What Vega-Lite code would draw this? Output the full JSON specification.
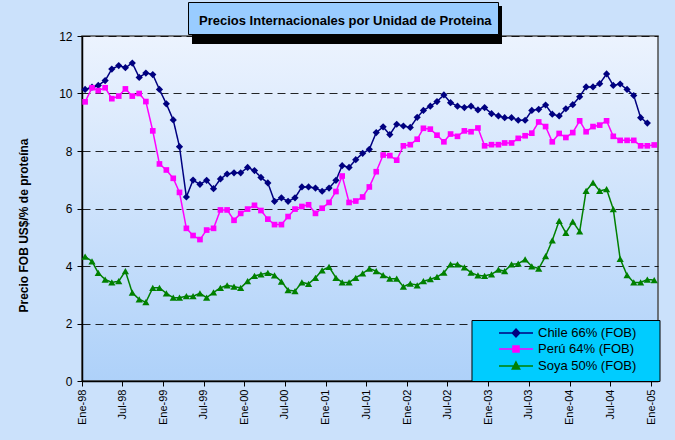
{
  "$schema": "https://vega.github.io/schema/vega-lite/v6.json",
  "width": 576,
  "height": 345,
  "autosize": {"type": "none"},
  "padding": {"left": 82, "top": 36, "right": 17, "bottom": 59},
  "background": "#CBE1FB",
  "config": {
    "font": "Liberation Sans",
    "view": {
      "stroke": "#4d4d4d",
      "strokeWidth": 1.5,
      "fill": {"gradient": "linear", "x1": 0, "y1": 0, "x2": 0, "y2": 1, "stops": [{"offset": 0, "color": "#ECF3FE"}, {"offset": 1, "color": "#AED1F9"}]}
    }
  },
  "data": {
    "values": [
      {"serie": "Chile 66% (FOB)", "fecha": "1998-01-15", "precio": 10.14},
      {"serie": "Chile 66% (FOB)", "fecha": "1998-02-15", "precio": 10.22},
      {"serie": "Chile 66% (FOB)", "fecha": "1998-03-15", "precio": 10.28},
      {"serie": "Chile 66% (FOB)", "fecha": "1998-04-15", "precio": 10.45},
      {"serie": "Chile 66% (FOB)", "fecha": "1998-05-15", "precio": 10.85},
      {"serie": "Chile 66% (FOB)", "fecha": "1998-06-15", "precio": 10.97},
      {"serie": "Chile 66% (FOB)", "fecha": "1998-07-15", "precio": 10.90},
      {"serie": "Chile 66% (FOB)", "fecha": "1998-08-15", "precio": 11.06},
      {"serie": "Chile 66% (FOB)", "fecha": "1998-09-15", "precio": 10.56},
      {"serie": "Chile 66% (FOB)", "fecha": "1998-10-15", "precio": 10.71},
      {"serie": "Chile 66% (FOB)", "fecha": "1998-11-15", "precio": 10.66},
      {"serie": "Chile 66% (FOB)", "fecha": "1998-12-15", "precio": 10.14},
      {"serie": "Chile 66% (FOB)", "fecha": "1999-01-15", "precio": 9.64},
      {"serie": "Chile 66% (FOB)", "fecha": "1999-02-15", "precio": 9.08},
      {"serie": "Chile 66% (FOB)", "fecha": "1999-03-15", "precio": 8.15},
      {"serie": "Chile 66% (FOB)", "fecha": "1999-04-15", "precio": 6.40},
      {"serie": "Chile 66% (FOB)", "fecha": "1999-05-15", "precio": 6.99},
      {"serie": "Chile 66% (FOB)", "fecha": "1999-06-15", "precio": 6.84},
      {"serie": "Chile 66% (FOB)", "fecha": "1999-07-15", "precio": 6.98},
      {"serie": "Chile 66% (FOB)", "fecha": "1999-08-15", "precio": 6.69},
      {"serie": "Chile 66% (FOB)", "fecha": "1999-09-15", "precio": 7.03},
      {"serie": "Chile 66% (FOB)", "fecha": "1999-10-15", "precio": 7.20},
      {"serie": "Chile 66% (FOB)", "fecha": "1999-11-15", "precio": 7.24},
      {"serie": "Chile 66% (FOB)", "fecha": "1999-12-15", "precio": 7.24},
      {"serie": "Chile 66% (FOB)", "fecha": "2000-01-15", "precio": 7.43},
      {"serie": "Chile 66% (FOB)", "fecha": "2000-02-15", "precio": 7.32},
      {"serie": "Chile 66% (FOB)", "fecha": "2000-03-15", "precio": 7.08},
      {"serie": "Chile 66% (FOB)", "fecha": "2000-04-15", "precio": 6.89},
      {"serie": "Chile 66% (FOB)", "fecha": "2000-05-15", "precio": 6.25},
      {"serie": "Chile 66% (FOB)", "fecha": "2000-06-15", "precio": 6.37},
      {"serie": "Chile 66% (FOB)", "fecha": "2000-07-15", "precio": 6.25},
      {"serie": "Chile 66% (FOB)", "fecha": "2000-08-15", "precio": 6.37},
      {"serie": "Chile 66% (FOB)", "fecha": "2000-09-15", "precio": 6.75},
      {"serie": "Chile 66% (FOB)", "fecha": "2000-10-15", "precio": 6.75},
      {"serie": "Chile 66% (FOB)", "fecha": "2000-11-15", "precio": 6.71},
      {"serie": "Chile 66% (FOB)", "fecha": "2000-12-15", "precio": 6.60},
      {"serie": "Chile 66% (FOB)", "fecha": "2001-01-15", "precio": 6.71},
      {"serie": "Chile 66% (FOB)", "fecha": "2001-02-15", "precio": 6.98},
      {"serie": "Chile 66% (FOB)", "fecha": "2001-03-15", "precio": 7.49},
      {"serie": "Chile 66% (FOB)", "fecha": "2001-04-15", "precio": 7.43},
      {"serie": "Chile 66% (FOB)", "fecha": "2001-05-15", "precio": 7.70},
      {"serie": "Chile 66% (FOB)", "fecha": "2001-06-15", "precio": 7.92},
      {"serie": "Chile 66% (FOB)", "fecha": "2001-07-15", "precio": 8.06},
      {"serie": "Chile 66% (FOB)", "fecha": "2001-08-15", "precio": 8.64},
      {"serie": "Chile 66% (FOB)", "fecha": "2001-09-15", "precio": 8.84},
      {"serie": "Chile 66% (FOB)", "fecha": "2001-10-15", "precio": 8.57},
      {"serie": "Chile 66% (FOB)", "fecha": "2001-11-15", "precio": 8.93},
      {"serie": "Chile 66% (FOB)", "fecha": "2001-12-15", "precio": 8.87},
      {"serie": "Chile 66% (FOB)", "fecha": "2002-01-15", "precio": 8.82},
      {"serie": "Chile 66% (FOB)", "fecha": "2002-02-15", "precio": 9.17},
      {"serie": "Chile 66% (FOB)", "fecha": "2002-03-15", "precio": 9.41},
      {"serie": "Chile 66% (FOB)", "fecha": "2002-04-15", "precio": 9.56},
      {"serie": "Chile 66% (FOB)", "fecha": "2002-05-15", "precio": 9.72},
      {"serie": "Chile 66% (FOB)", "fecha": "2002-06-15", "precio": 9.95},
      {"serie": "Chile 66% (FOB)", "fecha": "2002-07-15", "precio": 9.68},
      {"serie": "Chile 66% (FOB)", "fecha": "2002-08-15", "precio": 9.56},
      {"serie": "Chile 66% (FOB)", "fecha": "2002-09-15", "precio": 9.51},
      {"serie": "Chile 66% (FOB)", "fecha": "2002-10-15", "precio": 9.56},
      {"serie": "Chile 66% (FOB)", "fecha": "2002-11-15", "precio": 9.43},
      {"serie": "Chile 66% (FOB)", "fecha": "2002-12-15", "precio": 9.51},
      {"serie": "Chile 66% (FOB)", "fecha": "2003-01-15", "precio": 9.30},
      {"serie": "Chile 66% (FOB)", "fecha": "2003-02-15", "precio": 9.22},
      {"serie": "Chile 66% (FOB)", "fecha": "2003-03-15", "precio": 9.16},
      {"serie": "Chile 66% (FOB)", "fecha": "2003-04-15", "precio": 9.16},
      {"serie": "Chile 66% (FOB)", "fecha": "2003-05-15", "precio": 9.07},
      {"serie": "Chile 66% (FOB)", "fecha": "2003-06-15", "precio": 9.07},
      {"serie": "Chile 66% (FOB)", "fecha": "2003-07-15", "precio": 9.41},
      {"serie": "Chile 66% (FOB)", "fecha": "2003-08-15", "precio": 9.45},
      {"serie": "Chile 66% (FOB)", "fecha": "2003-09-15", "precio": 9.60},
      {"serie": "Chile 66% (FOB)", "fecha": "2003-10-15", "precio": 9.28},
      {"serie": "Chile 66% (FOB)", "fecha": "2003-11-15", "precio": 9.22},
      {"serie": "Chile 66% (FOB)", "fecha": "2003-12-15", "precio": 9.47},
      {"serie": "Chile 66% (FOB)", "fecha": "2004-01-15", "precio": 9.61},
      {"serie": "Chile 66% (FOB)", "fecha": "2004-02-15", "precio": 9.89},
      {"serie": "Chile 66% (FOB)", "fecha": "2004-03-15", "precio": 10.23},
      {"serie": "Chile 66% (FOB)", "fecha": "2004-04-15", "precio": 10.23},
      {"serie": "Chile 66% (FOB)", "fecha": "2004-05-15", "precio": 10.34},
      {"serie": "Chile 66% (FOB)", "fecha": "2004-06-15", "precio": 10.68},
      {"serie": "Chile 66% (FOB)", "fecha": "2004-07-15", "precio": 10.28},
      {"serie": "Chile 66% (FOB)", "fecha": "2004-08-15", "precio": 10.33},
      {"serie": "Chile 66% (FOB)", "fecha": "2004-09-15", "precio": 10.14},
      {"serie": "Chile 66% (FOB)", "fecha": "2004-10-15", "precio": 9.93},
      {"serie": "Chile 66% (FOB)", "fecha": "2004-11-15", "precio": 9.16},
      {"serie": "Chile 66% (FOB)", "fecha": "2004-12-15", "precio": 8.97},
      {"serie": "Perú 64% (FOB)", "fecha": "1998-01-15", "precio": 9.71},
      {"serie": "Perú 64% (FOB)", "fecha": "1998-02-15", "precio": 10.20},
      {"serie": "Perú 64% (FOB)", "fecha": "1998-03-15", "precio": 10.10},
      {"serie": "Perú 64% (FOB)", "fecha": "1998-04-15", "precio": 10.20},
      {"serie": "Perú 64% (FOB)", "fecha": "1998-05-15", "precio": 9.82},
      {"serie": "Perú 64% (FOB)", "fecha": "1998-06-15", "precio": 9.91},
      {"serie": "Perú 64% (FOB)", "fecha": "1998-07-15", "precio": 10.16},
      {"serie": "Perú 64% (FOB)", "fecha": "1998-08-15", "precio": 9.91},
      {"serie": "Perú 64% (FOB)", "fecha": "1998-09-15", "precio": 10.00},
      {"serie": "Perú 64% (FOB)", "fecha": "1998-10-15", "precio": 9.72},
      {"serie": "Perú 64% (FOB)", "fecha": "1998-11-15", "precio": 8.70},
      {"serie": "Perú 64% (FOB)", "fecha": "1998-12-15", "precio": 7.55},
      {"serie": "Perú 64% (FOB)", "fecha": "1999-01-15", "precio": 7.34},
      {"serie": "Perú 64% (FOB)", "fecha": "1999-02-15", "precio": 7.05},
      {"serie": "Perú 64% (FOB)", "fecha": "1999-03-15", "precio": 6.56},
      {"serie": "Perú 64% (FOB)", "fecha": "1999-04-15", "precio": 5.31},
      {"serie": "Perú 64% (FOB)", "fecha": "1999-05-15", "precio": 5.06},
      {"serie": "Perú 64% (FOB)", "fecha": "1999-06-15", "precio": 4.92},
      {"serie": "Perú 64% (FOB)", "fecha": "1999-07-15", "precio": 5.25},
      {"serie": "Perú 64% (FOB)", "fecha": "1999-08-15", "precio": 5.31},
      {"serie": "Perú 64% (FOB)", "fecha": "1999-09-15", "precio": 5.95},
      {"serie": "Perú 64% (FOB)", "fecha": "1999-10-15", "precio": 5.95},
      {"serie": "Perú 64% (FOB)", "fecha": "1999-11-15", "precio": 5.59},
      {"serie": "Perú 64% (FOB)", "fecha": "1999-12-15", "precio": 5.83},
      {"serie": "Perú 64% (FOB)", "fecha": "2000-01-15", "precio": 5.98},
      {"serie": "Perú 64% (FOB)", "fecha": "2000-02-15", "precio": 6.11},
      {"serie": "Perú 64% (FOB)", "fecha": "2000-03-15", "precio": 5.93},
      {"serie": "Perú 64% (FOB)", "fecha": "2000-04-15", "precio": 5.63},
      {"serie": "Perú 64% (FOB)", "fecha": "2000-05-15", "precio": 5.44},
      {"serie": "Perú 64% (FOB)", "fecha": "2000-06-15", "precio": 5.44},
      {"serie": "Perú 64% (FOB)", "fecha": "2000-07-15", "precio": 5.72},
      {"serie": "Perú 64% (FOB)", "fecha": "2000-08-15", "precio": 5.98},
      {"serie": "Perú 64% (FOB)", "fecha": "2000-09-15", "precio": 6.07},
      {"serie": "Perú 64% (FOB)", "fecha": "2000-10-15", "precio": 6.13},
      {"serie": "Perú 64% (FOB)", "fecha": "2000-11-15", "precio": 5.83},
      {"serie": "Perú 64% (FOB)", "fecha": "2000-12-15", "precio": 6.01},
      {"serie": "Perú 64% (FOB)", "fecha": "2001-01-15", "precio": 6.21},
      {"serie": "Perú 64% (FOB)", "fecha": "2001-02-15", "precio": 6.59},
      {"serie": "Perú 64% (FOB)", "fecha": "2001-03-15", "precio": 7.13},
      {"serie": "Perú 64% (FOB)", "fecha": "2001-04-15", "precio": 6.21},
      {"serie": "Perú 64% (FOB)", "fecha": "2001-05-15", "precio": 6.26},
      {"serie": "Perú 64% (FOB)", "fecha": "2001-06-15", "precio": 6.40},
      {"serie": "Perú 64% (FOB)", "fecha": "2001-07-15", "precio": 6.75},
      {"serie": "Perú 64% (FOB)", "fecha": "2001-08-15", "precio": 7.28},
      {"serie": "Perú 64% (FOB)", "fecha": "2001-09-15", "precio": 7.86},
      {"serie": "Perú 64% (FOB)", "fecha": "2001-10-15", "precio": 7.84},
      {"serie": "Perú 64% (FOB)", "fecha": "2001-11-15", "precio": 7.68},
      {"serie": "Perú 64% (FOB)", "fecha": "2001-12-15", "precio": 8.18},
      {"serie": "Perú 64% (FOB)", "fecha": "2002-01-15", "precio": 8.22},
      {"serie": "Perú 64% (FOB)", "fecha": "2002-02-15", "precio": 8.41},
      {"serie": "Perú 64% (FOB)", "fecha": "2002-03-15", "precio": 8.79},
      {"serie": "Perú 64% (FOB)", "fecha": "2002-04-15", "precio": 8.76},
      {"serie": "Perú 64% (FOB)", "fecha": "2002-05-15", "precio": 8.55},
      {"serie": "Perú 64% (FOB)", "fecha": "2002-06-15", "precio": 8.32},
      {"serie": "Perú 64% (FOB)", "fecha": "2002-07-15", "precio": 8.59},
      {"serie": "Perú 64% (FOB)", "fecha": "2002-08-15", "precio": 8.51},
      {"serie": "Perú 64% (FOB)", "fecha": "2002-09-15", "precio": 8.70},
      {"serie": "Perú 64% (FOB)", "fecha": "2002-10-15", "precio": 8.67},
      {"serie": "Perú 64% (FOB)", "fecha": "2002-11-15", "precio": 8.80},
      {"serie": "Perú 64% (FOB)", "fecha": "2002-12-15", "precio": 8.18},
      {"serie": "Perú 64% (FOB)", "fecha": "2003-01-15", "precio": 8.22},
      {"serie": "Perú 64% (FOB)", "fecha": "2003-02-15", "precio": 8.22},
      {"serie": "Perú 64% (FOB)", "fecha": "2003-03-15", "precio": 8.28},
      {"serie": "Perú 64% (FOB)", "fecha": "2003-04-15", "precio": 8.28},
      {"serie": "Perú 64% (FOB)", "fecha": "2003-05-15", "precio": 8.44},
      {"serie": "Perú 64% (FOB)", "fecha": "2003-06-15", "precio": 8.53},
      {"serie": "Perú 64% (FOB)", "fecha": "2003-07-15", "precio": 8.62},
      {"serie": "Perú 64% (FOB)", "fecha": "2003-08-15", "precio": 9.01},
      {"serie": "Perú 64% (FOB)", "fecha": "2003-09-15", "precio": 8.85},
      {"serie": "Perú 64% (FOB)", "fecha": "2003-10-15", "precio": 8.32},
      {"serie": "Perú 64% (FOB)", "fecha": "2003-11-15", "precio": 8.61},
      {"serie": "Perú 64% (FOB)", "fecha": "2003-12-15", "precio": 8.47},
      {"serie": "Perú 64% (FOB)", "fecha": "2004-01-15", "precio": 8.64},
      {"serie": "Perú 64% (FOB)", "fecha": "2004-02-15", "precio": 9.05},
      {"serie": "Perú 64% (FOB)", "fecha": "2004-03-15", "precio": 8.67},
      {"serie": "Perú 64% (FOB)", "fecha": "2004-04-15", "precio": 8.85},
      {"serie": "Perú 64% (FOB)", "fecha": "2004-05-15", "precio": 8.90},
      {"serie": "Perú 64% (FOB)", "fecha": "2004-06-15", "precio": 9.05},
      {"serie": "Perú 64% (FOB)", "fecha": "2004-07-15", "precio": 8.51},
      {"serie": "Perú 64% (FOB)", "fecha": "2004-08-15", "precio": 8.37},
      {"serie": "Perú 64% (FOB)", "fecha": "2004-09-15", "precio": 8.37},
      {"serie": "Perú 64% (FOB)", "fecha": "2004-10-15", "precio": 8.37},
      {"serie": "Perú 64% (FOB)", "fecha": "2004-11-15", "precio": 8.18},
      {"serie": "Perú 64% (FOB)", "fecha": "2004-12-15", "precio": 8.18},
      {"serie": "Perú 64% (FOB)", "fecha": "2005-01-15", "precio": 8.21},
      {"serie": "Soya 50% (FOB)", "fecha": "1998-01-15", "precio": 4.33},
      {"serie": "Soya 50% (FOB)", "fecha": "1998-02-15", "precio": 4.16},
      {"serie": "Soya 50% (FOB)", "fecha": "1998-03-15", "precio": 3.76},
      {"serie": "Soya 50% (FOB)", "fecha": "1998-04-15", "precio": 3.53},
      {"serie": "Soya 50% (FOB)", "fecha": "1998-05-15", "precio": 3.43},
      {"serie": "Soya 50% (FOB)", "fecha": "1998-06-15", "precio": 3.47},
      {"serie": "Soya 50% (FOB)", "fecha": "1998-07-15", "precio": 3.82},
      {"serie": "Soya 50% (FOB)", "fecha": "1998-08-15", "precio": 3.07},
      {"serie": "Soya 50% (FOB)", "fecha": "1998-09-15", "precio": 2.84},
      {"serie": "Soya 50% (FOB)", "fecha": "1998-10-15", "precio": 2.74},
      {"serie": "Soya 50% (FOB)", "fecha": "1998-11-15", "precio": 3.24},
      {"serie": "Soya 50% (FOB)", "fecha": "1998-12-15", "precio": 3.24},
      {"serie": "Soya 50% (FOB)", "fecha": "1999-01-15", "precio": 3.05},
      {"serie": "Soya 50% (FOB)", "fecha": "1999-02-15", "precio": 2.90},
      {"serie": "Soya 50% (FOB)", "fecha": "1999-03-15", "precio": 2.90},
      {"serie": "Soya 50% (FOB)", "fecha": "1999-04-15", "precio": 2.95},
      {"serie": "Soya 50% (FOB)", "fecha": "1999-05-15", "precio": 2.95},
      {"serie": "Soya 50% (FOB)", "fecha": "1999-06-15", "precio": 3.05},
      {"serie": "Soya 50% (FOB)", "fecha": "1999-07-15", "precio": 2.90},
      {"serie": "Soya 50% (FOB)", "fecha": "1999-08-15", "precio": 3.08},
      {"serie": "Soya 50% (FOB)", "fecha": "1999-09-15", "precio": 3.24},
      {"serie": "Soya 50% (FOB)", "fecha": "1999-10-15", "precio": 3.33},
      {"serie": "Soya 50% (FOB)", "fecha": "1999-11-15", "precio": 3.28},
      {"serie": "Soya 50% (FOB)", "fecha": "1999-12-15", "precio": 3.24},
      {"serie": "Soya 50% (FOB)", "fecha": "2000-01-15", "precio": 3.47},
      {"serie": "Soya 50% (FOB)", "fecha": "2000-02-15", "precio": 3.66},
      {"serie": "Soya 50% (FOB)", "fecha": "2000-03-15", "precio": 3.71},
      {"serie": "Soya 50% (FOB)", "fecha": "2000-04-15", "precio": 3.76},
      {"serie": "Soya 50% (FOB)", "fecha": "2000-05-15", "precio": 3.67},
      {"serie": "Soya 50% (FOB)", "fecha": "2000-06-15", "precio": 3.46},
      {"serie": "Soya 50% (FOB)", "fecha": "2000-07-15", "precio": 3.16},
      {"serie": "Soya 50% (FOB)", "fecha": "2000-08-15", "precio": 3.13},
      {"serie": "Soya 50% (FOB)", "fecha": "2000-09-15", "precio": 3.43},
      {"serie": "Soya 50% (FOB)", "fecha": "2000-10-15", "precio": 3.38},
      {"serie": "Soya 50% (FOB)", "fecha": "2000-11-15", "precio": 3.59},
      {"serie": "Soya 50% (FOB)", "fecha": "2000-12-15", "precio": 3.85},
      {"serie": "Soya 50% (FOB)", "fecha": "2001-01-15", "precio": 3.97},
      {"serie": "Soya 50% (FOB)", "fecha": "2001-02-15", "precio": 3.59},
      {"serie": "Soya 50% (FOB)", "fecha": "2001-03-15", "precio": 3.43},
      {"serie": "Soya 50% (FOB)", "fecha": "2001-04-15", "precio": 3.43},
      {"serie": "Soya 50% (FOB)", "fecha": "2001-05-15", "precio": 3.59},
      {"serie": "Soya 50% (FOB)", "fecha": "2001-06-15", "precio": 3.74},
      {"serie": "Soya 50% (FOB)", "fecha": "2001-07-15", "precio": 3.91},
      {"serie": "Soya 50% (FOB)", "fecha": "2001-08-15", "precio": 3.82},
      {"serie": "Soya 50% (FOB)", "fecha": "2001-09-15", "precio": 3.68},
      {"serie": "Soya 50% (FOB)", "fecha": "2001-10-15", "precio": 3.56},
      {"serie": "Soya 50% (FOB)", "fecha": "2001-11-15", "precio": 3.56},
      {"serie": "Soya 50% (FOB)", "fecha": "2001-12-15", "precio": 3.28},
      {"serie": "Soya 50% (FOB)", "fecha": "2002-01-15", "precio": 3.39},
      {"serie": "Soya 50% (FOB)", "fecha": "2002-02-15", "precio": 3.33},
      {"serie": "Soya 50% (FOB)", "fecha": "2002-03-15", "precio": 3.47},
      {"serie": "Soya 50% (FOB)", "fecha": "2002-04-15", "precio": 3.54},
      {"serie": "Soya 50% (FOB)", "fecha": "2002-05-15", "precio": 3.62},
      {"serie": "Soya 50% (FOB)", "fecha": "2002-06-15", "precio": 3.77},
      {"serie": "Soya 50% (FOB)", "fecha": "2002-07-15", "precio": 4.06},
      {"serie": "Soya 50% (FOB)", "fecha": "2002-08-15", "precio": 4.06},
      {"serie": "Soya 50% (FOB)", "fecha": "2002-09-15", "precio": 3.95},
      {"serie": "Soya 50% (FOB)", "fecha": "2002-10-15", "precio": 3.77},
      {"serie": "Soya 50% (FOB)", "fecha": "2002-11-15", "precio": 3.67},
      {"serie": "Soya 50% (FOB)", "fecha": "2002-12-15", "precio": 3.66},
      {"serie": "Soya 50% (FOB)", "fecha": "2003-01-15", "precio": 3.71},
      {"serie": "Soya 50% (FOB)", "fecha": "2003-02-15", "precio": 3.87},
      {"serie": "Soya 50% (FOB)", "fecha": "2003-03-15", "precio": 3.82},
      {"serie": "Soya 50% (FOB)", "fecha": "2003-04-15", "precio": 4.06},
      {"serie": "Soya 50% (FOB)", "fecha": "2003-05-15", "precio": 4.08},
      {"serie": "Soya 50% (FOB)", "fecha": "2003-06-15", "precio": 4.23},
      {"serie": "Soya 50% (FOB)", "fecha": "2003-07-15", "precio": 3.99},
      {"serie": "Soya 50% (FOB)", "fecha": "2003-08-15", "precio": 3.91},
      {"serie": "Soya 50% (FOB)", "fecha": "2003-09-15", "precio": 4.34},
      {"serie": "Soya 50% (FOB)", "fecha": "2003-10-15", "precio": 4.89},
      {"serie": "Soya 50% (FOB)", "fecha": "2003-11-15", "precio": 5.57},
      {"serie": "Soya 50% (FOB)", "fecha": "2003-12-15", "precio": 5.15},
      {"serie": "Soya 50% (FOB)", "fecha": "2004-01-15", "precio": 5.54},
      {"serie": "Soya 50% (FOB)", "fecha": "2004-02-15", "precio": 5.20},
      {"serie": "Soya 50% (FOB)", "fecha": "2004-03-15", "precio": 6.61},
      {"serie": "Soya 50% (FOB)", "fecha": "2004-04-15", "precio": 6.90},
      {"serie": "Soya 50% (FOB)", "fecha": "2004-05-15", "precio": 6.61},
      {"serie": "Soya 50% (FOB)", "fecha": "2004-06-15", "precio": 6.67},
      {"serie": "Soya 50% (FOB)", "fecha": "2004-07-15", "precio": 5.98},
      {"serie": "Soya 50% (FOB)", "fecha": "2004-08-15", "precio": 4.25},
      {"serie": "Soya 50% (FOB)", "fecha": "2004-09-15", "precio": 3.68},
      {"serie": "Soya 50% (FOB)", "fecha": "2004-10-15", "precio": 3.43},
      {"serie": "Soya 50% (FOB)", "fecha": "2004-11-15", "precio": 3.43},
      {"serie": "Soya 50% (FOB)", "fecha": "2004-12-15", "precio": 3.53},
      {"serie": "Soya 50% (FOB)", "fecha": "2005-01-15", "precio": 3.51}
    ]
  },
  "encoding": {
    "x": {
      "field": "fecha",
      "type": "temporal",
      "scale": {"type": "utc", "domain": [{"year": 1998, "month": 1, "date": 1, "utc": true}, {"year": 2005, "month": 2, "date": 1, "utc": true}]},
      "axis": {
        "title": null,
        "grid": false,
        "tickCount": {"interval": "month", "step": 6},
        "labelExpr": "(utcmonth(datum.value) == 0 ? 'Ene' : 'Jul') + '-' + utcFormat(datum.value, '%y')",
        "labelAngle": -90,
        "labelFlush": false,
        "labelOverlap": false,
        "labelFontSize": 11,
        "labelColor": "#000000",
        "labelPadding": 3,
        "tickSize": 5,
        "tickColor": "#000000",
        "domainColor": "#000000",
        "domainWidth": 1.5
      }
    },
    "y": {
      "field": "precio",
      "type": "quantitative",
      "scale": {"domain": [0, 12], "nice": false, "zero": true},
      "axis": {
        "title": "Precio FOB US$/% de proteína",
        "titleFontSize": 12,
        "titleFontWeight": "bold",
        "titleColor": "#000000",
        "titleX": -52,
        "titleY": 189,
        "values": [0, 2, 4, 6, 8, 10, 12],
        "labelFontSize": 12,
        "labelColor": "#000000",
        "labelPadding": 5,
        "tickSize": 5,
        "tickColor": "#000000",
        "domainColor": "#000000",
        "domainWidth": 1.5,
        "grid": true,
        "gridColor": "#000000",
        "gridDash": [8, 5],
        "gridWidth": 1,
        "gridOpacity": 0.85
      }
    }
  },
  "layer": [
    {
      "mark": {"type": "line", "strokeWidth": 1.5},
      "encoding": {
        "color": {
          "field": "serie",
          "type": "nominal",
          "scale": {"domain": ["Chile 66% (FOB)", "Perú 64% (FOB)", "Soya 50% (FOB)"], "range": ["#000080", "#FF00FF", "#008000"]},
          "legend": {
            "title": null,
            "orient": "none",
            "legendX": 397,
            "legendY": 290.5,
            "padding": 0,
            "symbolSize": 121,
            "symbolOffset": 30.5,
            "symbolType": "M-3.09,0H3.09M0,-0.73L0.67,0L0,0.73L-0.67,0Z",
            "labelOffset": 15.5,
            "labelFontSize": 13,
            "labelColor": "#000000",
            "labelLimit": 0,
            "rowPadding": 2,
            "zindex": 3,
            "encode": {
              "symbols": {
                "update": {
                  "shape": {"signal": "datum.value == 'Chile 66% (FOB)' ? 'M-3.09,0H3.09M0,-0.73L0.67,0L0,0.73L-0.67,0Z' : datum.value == 'Perú 64% (FOB)' ? 'M-3.09,0H3.09M-0.55,-0.55H0.55V0.55H-0.55Z' : 'M-3.09,0H3.09M0,-0.73L0.67,0.55H-0.67Z'"},
                  "fill": {"scale": "color", "field": "value"},
                  "stroke": {"scale": "color", "field": "value"},
                  "strokeWidth": {"value": 1.5},
                  "opacity": {"value": 1},
                  "fillOpacity": {"value": 1}
                }
              }
            }
          }
        },
        "strokeDash": {
          "datum": "Precios Internacionales por Unidad de Proteina",
          "scale": {"range": [[1, 0]]},
          "legend": {
            "title": null,
            "orient": "none",
            "legendX": 106,
            "legendY": -34,
            "fillColor": "#99CCFF",
            "strokeColor": "#000000",
            "padding": 6,
            "symbolSize": 676,
            "symbolOpacity": 0,
            "symbolStrokeWidth": 0,
            "labelOffset": -21,
            "labelFont": "Liberation Sans",
            "labelFontSize": 13,
            "labelFontWeight": "bold",
            "labelColor": "#000000",
            "labelLimit": 0,
            "zindex": 3
          }
        }
      }
    },
    {
      "mark": {"type": "point", "filled": true},
      "encoding": {
        "color": {"field": "serie", "type": "nominal"},
        "shape": {
          "condition": [
            {"test": "datum.serie == 'Chile 66% (FOB)'", "value": "diamond"},
            {"test": "datum.serie == 'Perú 64% (FOB)'", "value": "square"}
          ],
          "value": "triangle-up"
        },
        "size": {
          "condition": {"test": "datum.serie == 'Perú 64% (FOB)'", "value": 32},
          "value": 52
        },
        "opacity": {
          "datum": "sombra_titulo",
          "type": "ordinal",
          "scale": {"range": [1, 1]},
          "legend": {
            "title": null,
            "orient": "none",
            "legendX": 110,
            "legendY": -30,
            "padding": 0,
            "symbolSize": 1444,
            "symbolType": "M-8.158,-1H8.158V1H-8.158Z",
            "symbolOffset": 136,
            "symbolFillColor": "#000000",
            "symbolStrokeColor": "#000000",
            "symbolStrokeWidth": 0,
            "symbolOpacity": 1,
            "labelExpr": "''",
            "zindex": 1
          }
        },
        "fillOpacity": {
          "datum": "sombra_leyenda",
          "type": "ordinal",
          "scale": {"range": [1, 1]},
          "legend": {
            "title": null,
            "orient": "none",
            "legendX": 394,
            "legendY": 288,
            "padding": 0,
            "symbolSize": 3721,
            "symbolType": "M-3.082,-1H3.082V1H-3.082Z",
            "symbolOffset": 63.5,
            "symbolFillColor": "#000000",
            "symbolStrokeColor": "#000000",
            "symbolStrokeWidth": 0,
            "symbolOpacity": 1,
            "labelExpr": "''",
            "zindex": 1
          }
        },
        "strokeWidth": {
          "datum": "caja_leyenda",
          "type": "ordinal",
          "scale": {"range": [1, 1]},
          "legend": {
            "title": null,
            "orient": "none",
            "legendX": 390,
            "legendY": 284,
            "padding": 0,
            "symbolSize": 3721,
            "symbolType": "M-3.082,-1H3.082V1H-3.082Z",
            "symbolOffset": 63,
            "symbolFillColor": "#00CCFF",
            "symbolStrokeColor": "#000000",
            "symbolOpacity": 1,
            "labelExpr": "''",
            "zindex": 2
          }
        }
      }
    }
  ]
}
